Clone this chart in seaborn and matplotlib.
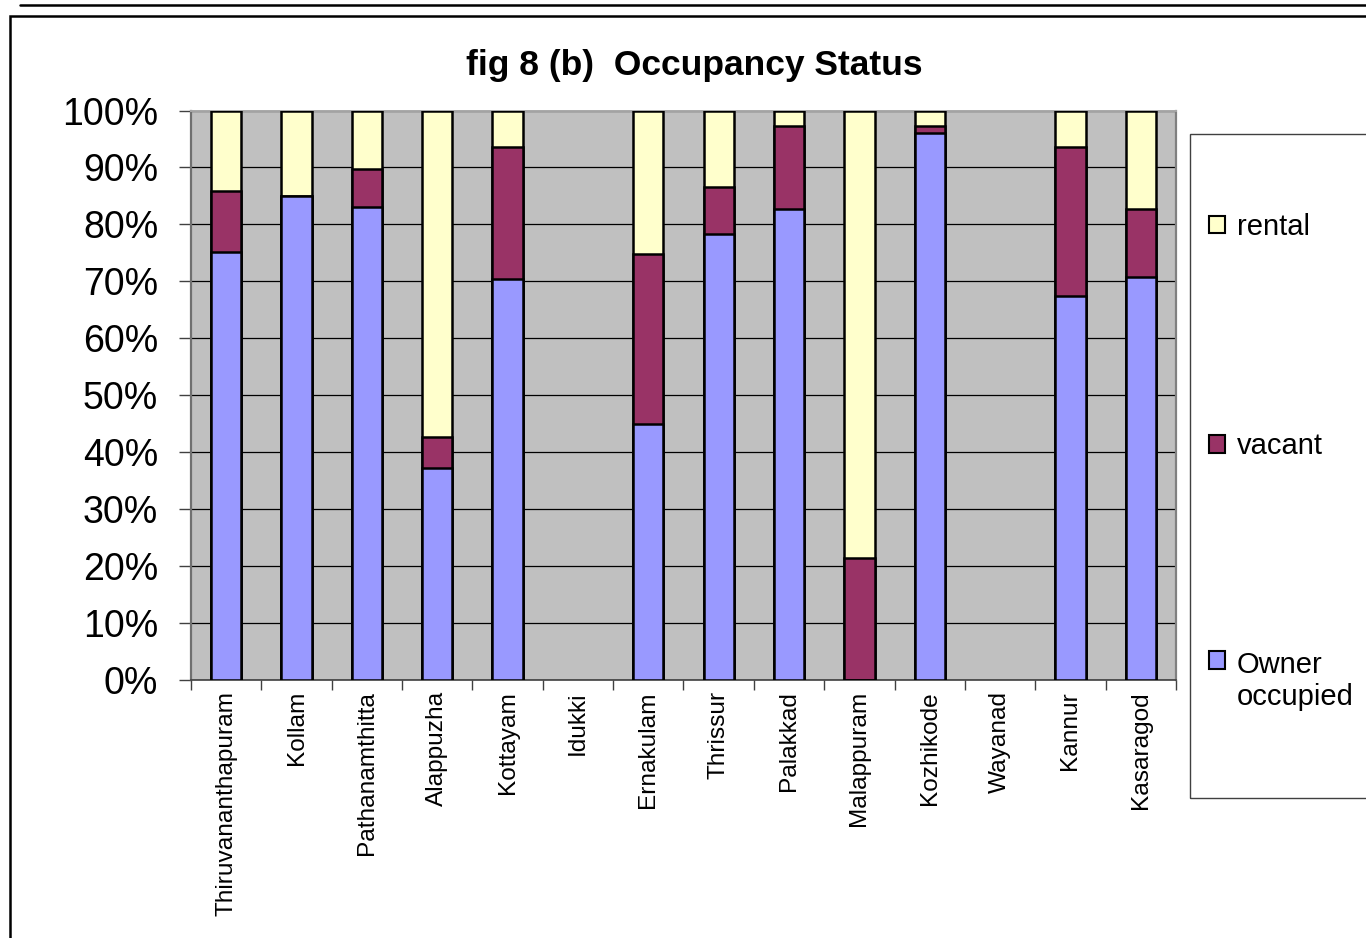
import numpy as np
import pandas as pd
import matplotlib
matplotlib.use("Agg")
import matplotlib.pyplot as plt
import seaborn as sns
from matplotlib.patches import Rectangle, Patch
from matplotlib.lines import Line2D

# ---------------- data (percent of houses) ----------------
districts = ["Thiruvananthapuram", "Kollam", "Pathanamthitta", "Alappuzha",
             "Kottayam", "Idukki", "Ernakulam", "Thrissur", "Palakkad",
             "Malappuram", "Kozhikode", "Wayanad", "Kannur", "Kasaragod"]
owner = [75.2, 85.0, 83.1, 37.2, 70.5, np.nan, 45.0, 78.4, 82.7, 0.0, 96.1, np.nan, 67.4, 70.8]
vacant = [10.7, 0.0, 6.7, 5.5, 23.1, np.nan, 29.8, 8.2, 14.6, 21.5, 1.1, np.nan, 26.2, 11.9]
rental = [14.1, 15.0, 10.2, 57.3, 6.4, np.nan, 25.2, 13.4, 2.7, 78.5, 2.8, np.nan, 6.4, 17.3]
series_labels = ["rental", "vacant", "Owner\noccupied"]
ytick_values = [0, 10, 20, 30, 40, 50, 60, 70, 80, 90, 100]
title = "fig 8 (b)  Occupancy Status"

# ---------------- styles ----------------
c_owner, c_vacant, c_rental = "#9999FF", "#993366", "#FFFFCC"
W, H = 1366, 938

sns.set_theme(style="white")
plt.rcParams["font.family"] = ["Liberation Sans", "DejaVu Sans"]
plt.rcParams["text.color"] = "black"
plt.rcParams["xtick.labelcolor"] = "black"
plt.rcParams["ytick.labelcolor"] = "black"

df = pd.DataFrame({"district": districts, "owner": owner,
                   "vacant": vacant, "rental": rental}).dropna()
total = df["owner"] + df["vacant"] + df["rental"]
df["cum_owner"] = df["owner"] / total * 100
df["cum_vacant"] = (df["owner"] + df["vacant"]) / total * 100
df["cum_rental"] = (df["owner"] + df["vacant"] + df["rental"]) / total * 100

fig = plt.figure(figsize=(W / 100, H / 100), dpi=100)
fig.patch.set_facecolor("white")
l, r, t, b = 191, 1176, 110.5, 680
ax = fig.add_axes([l / W, 1 - b / H, (r - l) / W, (b - t) / H])
ax.set_facecolor("#C0C0C0")

for col, color in [("cum_rental", c_rental), ("cum_vacant", c_vacant), ("cum_owner", c_owner)]:
    sns.barplot(data=df, x="district", y=col, order=districts, color=color,
                saturation=1, width=0.43, edgecolor="black", linewidth=1.8,
                errorbar=None, ax=ax, zorder=3)

ax.set_xlim(-0.5, len(districts) - 0.5)
ax.set_ylim(0, 100)
ax.set_xlabel("")
ax.set_ylabel("")
ax.set_yticks(ytick_values)
ax.set_yticklabels([f"{v}%" for v in ytick_values])
ax.yaxis.grid(True, color="black", linewidth=0.9)
ax.xaxis.grid(False)
ax.set_axisbelow(True)

ax.set_xticks(np.arange(-0.5, len(districts), 1), minor=True)
ax.tick_params(axis="x", which="major", length=0, pad=8, labelsize=17.6,
               labelrotation=90, bottom=True, labelcolor="black")
ax.tick_params(axis="x", which="minor", length=7, width=1, color="#404040", bottom=True)
ax.tick_params(axis="y", which="major", length=8.6, width=1, color="#404040",
               pad=15, labelsize=27, left=True, labelcolor="black")

for side, col, lw in [("left", "#707070", 1.6), ("right", "#808080", 1.6),
                      ("top", "#A8A8A8", 1.4), ("bottom", "#404040", 1.2)]:
    ax.spines[side].set_visible(True)
    ax.spines[side].set_color(col)
    ax.spines[side].set_linewidth(lw)

fig.text(694 / W, 1 - 66 / H, title, ha="center", va="center",
         fontsize=25.5, fontweight="bold", color="black")

# legend
handles = [Patch(facecolor=c, edgecolor="black", linewidth=1.5)
           for c in (c_rental, c_vacant, c_owner)]
leg = fig.legend(handles, series_labels, loc="upper left",
                 bbox_to_anchor=(1209 / W, 1 - 213 / H), frameon=False, fontsize=21,
                 handlelength=0.55, handleheight=0.55, handletextpad=0.4,
                 labelspacing=6.55, borderpad=0, borderaxespad=0)
for txt in leg.get_texts():
    txt.set_color("black")
try:
    for column in leg._legend_handle_box.get_children():
        items = column.get_children()
        items[-1].align = "top"
except Exception:
    pass
fig.add_artist(Rectangle((1190 / W, 1 - 798 / H), 0.3, (798 - 134) / H,
                         transform=fig.transFigure, fill=False,
                         edgecolor="#404040", linewidth=1))

# outer frame and top rule
fig.add_artist(Rectangle((10 / W, -0.2), 1.2, (1 - 16 / H) + 0.2,
                         transform=fig.transFigure, fill=False,
                         edgecolor="black", linewidth=1.8))
fig.add_artist(Line2D([20 / W, 1.0], [1 - 5 / H, 1 - 5 / H],
                      transform=fig.transFigure, color="black", linewidth=1.8))

fig.savefig("out.png", dpi=100)
